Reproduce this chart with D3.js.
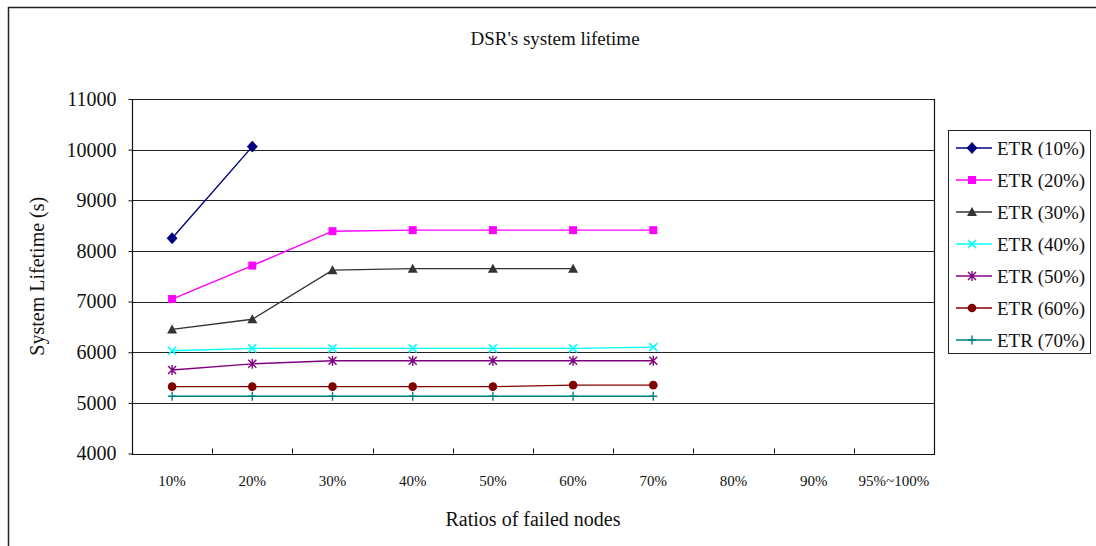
<!DOCTYPE html>
<html>
<head>
<meta charset="utf-8">
<script src="https://cdn.jsdelivr.net/npm/d3@7"></script>
<style>
  html, body { margin: 0; padding: 0; background: #fff; }
  svg { display: block; }
  text { font-family: "Liberation Serif", "DejaVu Serif", serif; fill: #111; }
</style>
</head>
<body>
<svg id="chart" width="1096" height="546"></svg>
<script>
// Failure-ratio categories on the x axis
const categories = ["10%", "20%", "30%", "40%", "50%", "60%", "70%", "80%", "90%", "95%~100%"];
const yTicks = [4000, 5000, 6000, 7000, 8000, 9000, 10000, 11000];

// System lifetime (s) per ETR setting, one value per category (shorter series stop early)
const etr10 = [8250, 10060];
const etr20 = [7050, 7710, 8390, 8410, 8410, 8410, 8410];
const etr30 = [6450, 6650, 7620, 7650, 7650, 7650];
const etr40 = [6030, 6075, 6075, 6075, 6075, 6075, 6100];
const etr50 = [5650, 5770, 5830, 5830, 5830, 5830, 5830];
const etr60 = [5320, 5320, 5320, 5320, 5320, 5350, 5350];
const etr70 = [5130, 5130, 5130, 5130, 5130, 5130, 5130];

const seriesNames = ["ETR (10%)", "ETR (20%)", "ETR (30%)", "ETR (40%)", "ETR (50%)", "ETR (60%)", "ETR (70%)"];
const seriesColors = ["#000080", "#ff00ff", "#333333", "#00ffff", "#800080", "#800000", "#008080"];
const seriesMarkers = ["diamond", "square", "triangle", "cross", "asterisk", "circle", "plus"];
const seriesValues = [etr10, etr20, etr30, etr40, etr50, etr60, etr70];

const svg = d3.select("#chart");

// Outer chart frame (top and left edges visible)
svg.append("path")
  .attr("d", "M8.5,1000 L8.5,7.5 L1200,7.5")
  .attr("fill", "none").attr("stroke", "#222").attr("stroke-width", 1.5);

const plot = { left: 132, right: 934, top: 99, bottom: 453.5 };

const x = d3.scaleBand().domain(categories).range([plot.left, plot.right]);
const y = d3.scaleLinear().domain([4000, 11000]).range([plot.bottom, plot.top]);

// Title
svg.append("text")
  .attr("x", (plot.left + plot.right) / 2 + 22).attr("y", 45)
  .attr("text-anchor", "middle").attr("font-size", 19)
  .text("DSR's system lifetime");

// Horizontal gridlines
svg.append("g").selectAll("line")
  .data(yTicks.slice(1))
  .join("line")
  .attr("x1", plot.left).attr("x2", plot.right)
  .attr("y1", d => Math.round(y(d)) + 0.5).attr("y2", d => Math.round(y(d)) + 0.5)
  .attr("stroke", "#222").attr("stroke-width", 1);

// Plot border: left, bottom, right
svg.append("path")
  .attr("d", `M${plot.left + 0.5},${plot.top} V${Math.round(plot.bottom) + 0.5} H${plot.right + 0.5} V${plot.top}`)
  .attr("fill", "none").attr("stroke", "#111").attr("stroke-width", 1.2);

// Y axis
const yAxis = svg.append("g")
  .attr("transform", `translate(${plot.left + 0.5},0)`)
  .call(d3.axisLeft(y).tickValues(yTicks).tickSize(4).tickPadding(12).tickFormat(d3.format("d")));
yAxis.select(".domain").remove();
yAxis.selectAll(".tick line").attr("stroke", "#111");
yAxis.selectAll(".tick text")
  .attr("font-size", 20).attr("font-family", "Liberation Serif").attr("fill", "#222");

// X axis labels at band centres
const xAxis = svg.append("g")
  .attr("transform", `translate(0,${plot.bottom})`)
  .call(d3.axisBottom(x).tickSize(0).tickPadding(22));
xAxis.select(".domain").remove();
xAxis.selectAll(".tick text")
  .attr("font-size", 15).attr("font-family", "Liberation Serif").attr("fill", "#222");

// Category separators: small inward ticks on the bottom axis
svg.append("g").selectAll("line")
  .data(categories.slice(1))
  .join("line")
  .attr("x1", d => Math.round(x(d)) + 0.5).attr("x2", d => Math.round(x(d)) + 0.5)
  .attr("y1", plot.bottom).attr("y2", plot.bottom - 5)
  .attr("stroke", "#111");

// Axis titles
svg.append("text")
  .attr("x", (plot.left + plot.right) / 2).attr("y", 526)
  .attr("text-anchor", "middle").attr("font-size", 20)
  .text("Ratios of failed nodes");
svg.append("text")
  .attr("transform", `translate(44,${(plot.top + plot.bottom) / 2}) rotate(-90)`)
  .attr("text-anchor", "middle").attr("font-size", 20)
  .text("System Lifetime (s)");

// Marker drawing helper
function drawMarker(g, type, color) {
  switch (type) {
    case "diamond":
      g.append("path").attr("d", "M0,-5.5 L5,0 L0,5.5 L-5,0 Z").attr("fill", color).attr("stroke", color).attr("stroke-width", 0.8);
      break;
    case "square":
      g.append("rect").attr("x", -4).attr("y", -4).attr("width", 8).attr("height", 8).attr("fill", color);
      break;
    case "triangle":
      g.append("path").attr("d", "M0,-5 L5,4 L-5,4 Z").attr("fill", color);
      break;
    case "cross":
      g.append("path").attr("d", "M-4,-4 L4,4 M-4,4 L4,-4").attr("stroke", color).attr("stroke-width", 1.6).attr("fill", "none");
      break;
    case "asterisk":
      g.append("path").attr("d", "M-4,-4 L4,4 M-4,4 L4,-4 M0,-5 L0,5").attr("stroke", color).attr("stroke-width", 1.4).attr("fill", "none");
      break;
    case "circle":
      g.append("circle").attr("r", 4.3).attr("fill", color);
      break;
    case "plus":
      g.append("path").attr("d", "M-4,0 L4,0 M0,-4.5 L0,4.5").attr("stroke", color).attr("stroke-width", 1.4).attr("fill", "none");
      break;
  }
}

// Series lines and markers
const line = d3.line()
  .x((d, i) => x(categories[i]) + x.bandwidth() / 2)
  .y(d => y(d));

seriesValues.forEach((vals, s) => {
  const g = svg.append("g");
  g.append("path")
    .datum(vals)
    .attr("d", line)
    .attr("fill", "none")
    .attr("stroke", seriesColors[s])
    .attr("stroke-width", 1.4);
  vals.forEach((v, i) => {
    const m = g.append("g")
      .attr("transform", `translate(${x(categories[i]) + x.bandwidth() / 2},${y(v)})`);
    drawMarker(m, seriesMarkers[s], seriesColors[s]);
  });
});

// Legend
const legend = svg.append("g");
legend.append("rect")
  .attr("x", 948.5).attr("y", 130.5).attr("width", 142).attr("height", 223)
  .attr("fill", "#fff").attr("stroke", "#222").attr("stroke-width", 1);
seriesNames.forEach((name, s) => {
  const yy = 148 + s * 32;
  const row = legend.append("g").attr("transform", `translate(0,${yy})`);
  row.append("line").attr("x1", 956).attr("x2", 992).attr("y1", 0).attr("y2", 0)
    .attr("stroke", seriesColors[s]).attr("stroke-width", 1.4);
  const m = row.append("g").attr("transform", "translate(972,0)");
  drawMarker(m, seriesMarkers[s], seriesColors[s]);
  row.append("text").attr("x", 997).attr("y", 6.5).attr("font-size", 19).text(name);
});
</script>
</body>
</html>
